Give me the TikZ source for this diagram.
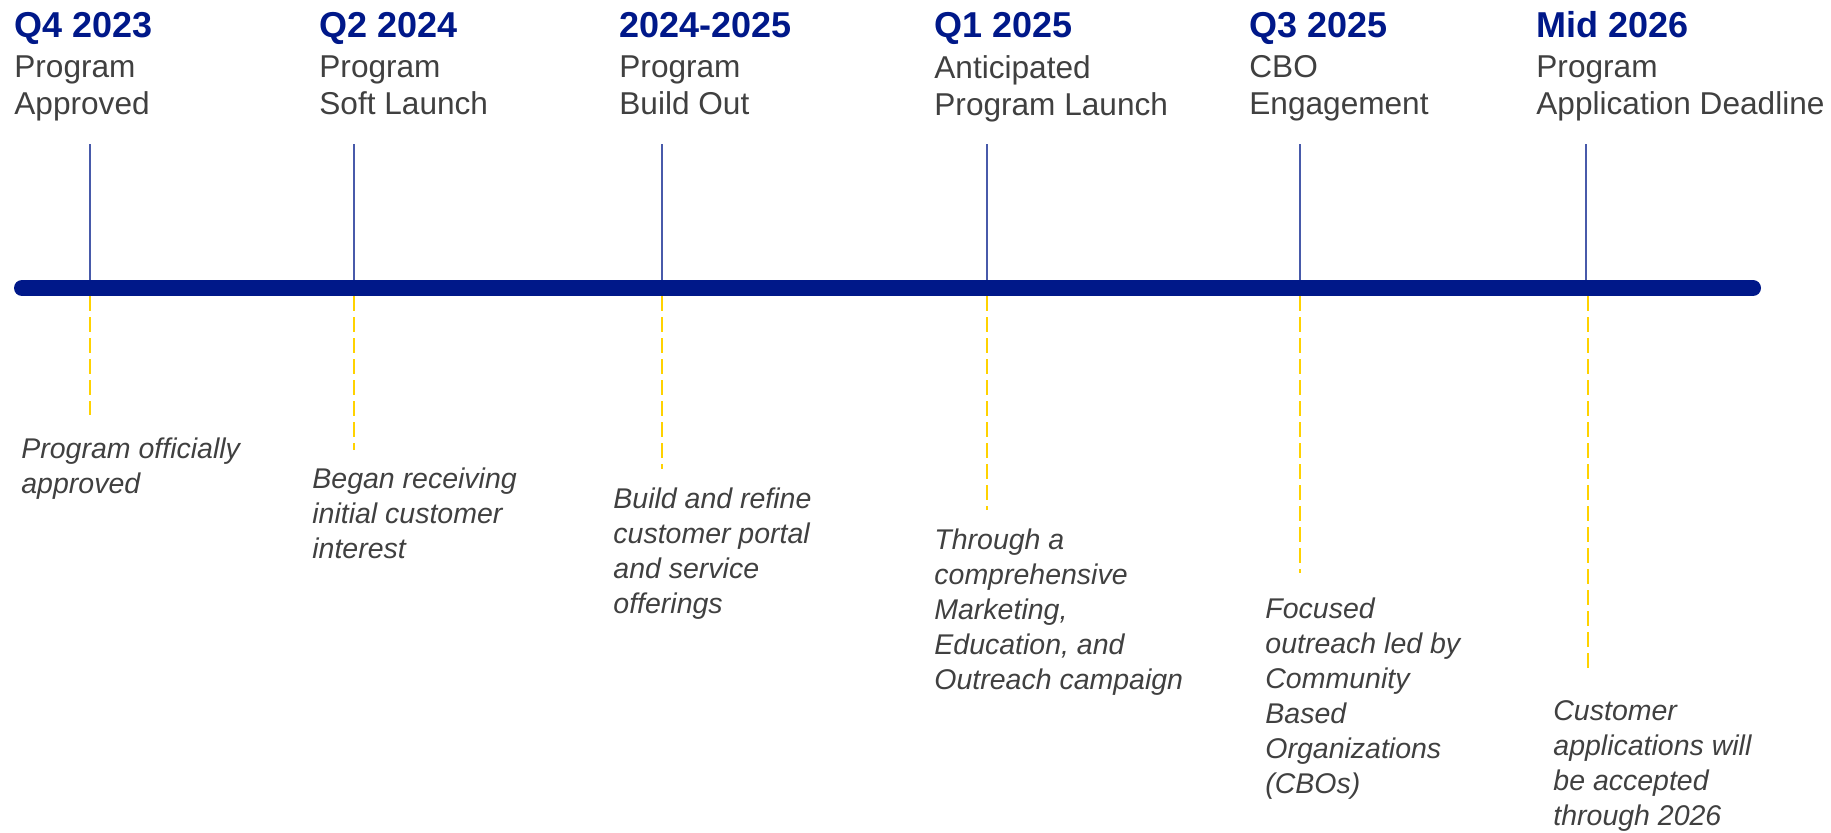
\documentclass[tikz,border=0pt]{standalone}
\usepackage{fontspec}
\setmainfont{Liberation Sans}
\definecolor{navy}{RGB}{0,24,137}
\definecolor{tgray}{RGB}{64,64,64}
\definecolor{ylw}{RGB}{255,210,0}
\definecolor{vblue}{RGB}{72,90,170}
\begin{document}
\begin{tikzpicture}[x=0.5pt,y=-0.5pt,
  title/.style={anchor=base west, inner sep=0, font=\fontsize{18}{21}\selectfont\bfseries, text=navy},
  sub/.style={anchor=north west, inner sep=0, align=left, font=\fontsize{15.8}{18.5}\selectfont, text=tgray},
  desc/.style={anchor=north west, inner sep=0, align=left, font=\fontsize{14.25}{17.5}\selectfont\itshape, text=tgray},
  tick/.style={draw=vblue, line width=0.75pt},
  guide/.style={draw=ylw, line width=1pt, dash pattern=on 7.5pt off 3pt},
  bar/.style={draw=navy, line width=8pt, line cap=round}]
\useasboundingbox (0,0) rectangle (1831,832);

% titles
\node[title] (t1) at (14,37) {Q4 2023};
\node[title] (t2) at (319,37) {Q2 2024};
\node[title] (t3) at (619,37) {2024-2025};
\node[title] (t4) at (934,37) {Q1 2025};
\node[title] (t5) at (1249,37) {Q3 2025};
\node[title] (t6) at (1536,37) {Mid 2026};

% subtitles
\node[sub] (s1) at (14,55) {Program\\Approved};
\node[sub] (s2) at (319,55) {Program\\Soft Launch};
\node[sub] (s3) at (619,55) {Program\\Build Out};
\node[sub] (s4) at (934,55) {Anticipated\\Program Launch};
\node[sub] (s5) at (1249,55) {CBO\\Engagement};
\node[sub] (s6) at (1536,55) {Program\\Application Deadline};

% coordinates
\foreach \i/\x/\e in {1/90/415, 2/354/450, 3/662/469, 4/987/510, 5/1300/573, 6/1586/669}{
  \coordinate (v\i) at (\x,144);
  \coordinate (b\i) at (\x,288);
}
\coordinate (y1) at (90,296);   \coordinate (e1) at (90,415);
\coordinate (y2) at (354,296);  \coordinate (e2) at (354,450);
\coordinate (y3) at (662,296);  \coordinate (e3) at (662,469);
\coordinate (y4) at (987,296);  \coordinate (e4) at (987,510);
\coordinate (y5) at (1300,296); \coordinate (e5) at (1300,573);
\coordinate (y6) at (1588,296); \coordinate (e6) at (1588,669);
\coordinate (L) at (22,288);
\coordinate (R) at (1753,288);

% ticks
\foreach \i in {1,...,6}{ \draw[tick] (v\i) -- (b\i); }
% bar
\draw[bar] (L) -- (R);
% guides
\foreach \i in {1,...,6}{ \draw[guide] (y\i) -- (e\i); }

% descriptions
\node[desc] (d1) at (21,437) {Program officially\\approved};
\node[desc] (d2) at (312,467) {Began receiving\\initial customer\\interest};
\node[desc] (d3) at (613,487) {Build and refine\\customer portal\\and service\\offerings};
\node[desc] (d4) at (934,528) {Through a\\comprehensive\\Marketing,\\Education, and\\Outreach campaign};
\node[desc] (d5) at (1265,597) {Focused\\outreach led by\\Community\\Based\\Organizations\\(CBOs)};
\node[desc] (d6) at (1553,700) {Customer\\applications will\\be accepted\\through 2026};
\end{tikzpicture}
\end{document}
